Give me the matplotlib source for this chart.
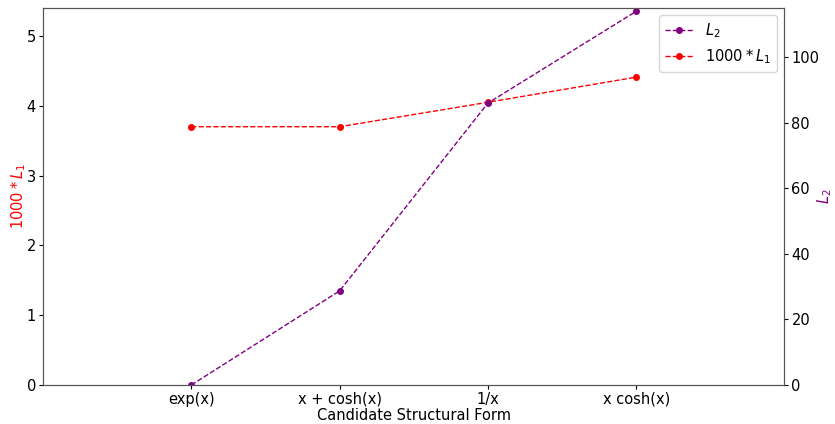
import numpy as np
import matplotlib.pyplot as plt

forms = ["exp(x)", "x + cosh(x)", "1/x", "x cosh(x)"]
l1_scaled = [3.70, 3.70, 4.05, 4.41]   # 1000*L1
l2 = [0.0, 28.7, 86.0, 114.0]

x = np.arange(1, len(forms) + 1)
fs = 10.5

fig = plt.figure(figsize=(8.35, 4.24), dpi=100)
ax1 = fig.add_axes([0.0515, 0.092, 0.888, 0.889])
ax2 = ax1.twinx()

l1_line, = ax1.plot(x, l1_scaled, "--o", color="red", lw=1, ms=4, label=r"$1000*L_1$")
l2_line, = ax2.plot(x, l2, "--o", color="purple", lw=1, ms=4, label=r"$L_2$")

ax1.set_xlim(0, 5)
ax1.set_ylim(0, 5.4)
ax2.set_ylim(0, 115)
ax1.set_xticks(x)
ax1.set_xticklabels(forms)
ax1.set_xlabel("Candidate Structural Form", fontsize=fs, labelpad=1)
ax1.set_ylabel(r"$1000*L_1$", color="red", fontsize=fs, labelpad=-1)
ax2.set_ylabel(r"$L_2$", color="purple", fontsize=fs, labelpad=-3)
for ax in (ax1, ax2):
    ax.tick_params(labelsize=fs, length=3, pad=2)
    for s in ax.spines.values():
        s.set_color("#555555")

ax2.legend([l2_line, l1_line], [r"$L_2$", r"$1000*L_1$"], loc="upper right", fontsize=fs)

fig.savefig("out.png", dpi=100)
